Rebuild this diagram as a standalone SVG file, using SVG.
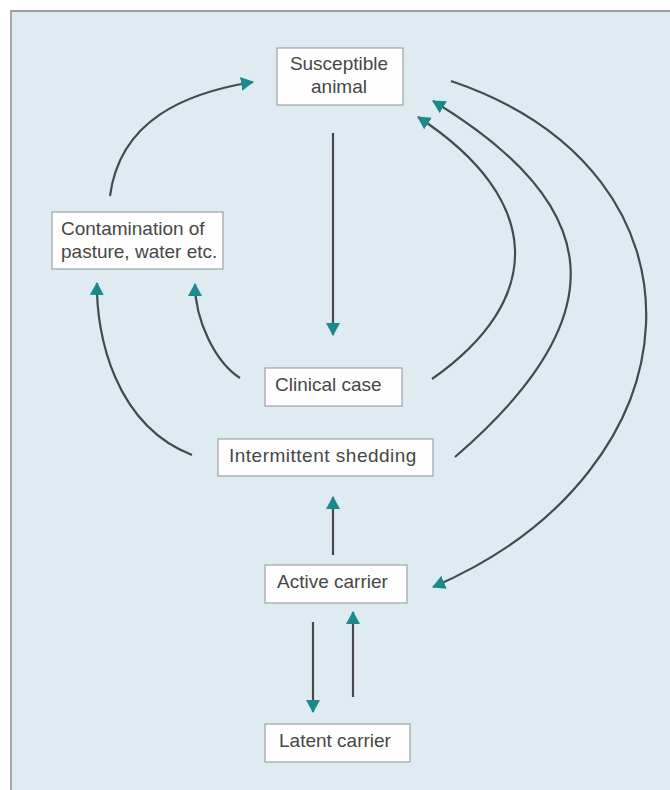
<svg xmlns="http://www.w3.org/2000/svg" width="670" height="790" viewBox="0 0 670 790">
<style>
.box{fill:#fefefe;stroke:#9aa3a6;stroke-width:1.2}
.lbl{font-family:"Liberation Sans",Arial,Helvetica,sans-serif;font-size:19px;fill:#474747}
.c{fill:none;stroke:#464a4c;stroke-width:2.2;marker-end:url(#ah)}
</style>
<defs>
<marker id="ah" viewBox="0 0 13 14" markerUnits="userSpaceOnUse" markerWidth="13" markerHeight="14" refX="12" refY="7" orient="auto">
<path d="M0,0 L13,7 L0,14 z" fill="#1c8a8d"/>
</marker>
</defs>
<rect x="0" y="0" width="670" height="790" fill="#ffffff"/>
<rect x="11" y="11" width="659" height="779" fill="#deecf2"/>
<line x1="10" y1="11" x2="670" y2="11" stroke="#9a9c9e" stroke-width="2"/>
<line x1="11" y1="10" x2="11" y2="790" stroke="#a4a6a8" stroke-width="2"/>

<g id="connectors">
<path class="c" d="M333,133 L333,335"/>
<path class="c" d="M333,555 L333,497"/>
<path class="c" d="M313,622 L313,712"/>
<path class="c" d="M353,697 L353,612"/>
<path class="c" d="M110,196 C120,120 185,93 253,82"/>
<path class="c" d="M192,455 C115,425 96,335 97,283"/>
<path class="c" d="M240,378 C215,362 195,320 195,284"/>
<path class="c" d="M432,379 C545,300 545,200 418,117"/>
<path class="c" d="M455,457 C620,315 605,205 433,101"/>
<path class="c" d="M451,81 C723,173 705,470 433,587"/>
</g>

<g id="susceptible">
<rect class="box" x="277" y="48" width="126" height="57"/>
<text class="lbl" x="339" y="70" text-anchor="middle">Susceptible</text>
<text class="lbl" x="339" y="93" text-anchor="middle">animal</text>
</g>
<g id="contamination">
<rect class="box" x="52" y="212" width="171" height="57"/>
<text class="lbl" x="61" y="235">Contamination of</text>
<text class="lbl" x="61" y="258">pasture, water etc.</text>
</g>
<g id="clinical">
<rect class="box" x="265" y="368" width="137" height="38"/>
<text class="lbl" x="275" y="391">Clinical case</text>
</g>
<g id="intermittent">
<rect class="box" x="218" y="439" width="215" height="37"/>
<text class="lbl" x="229" y="462" letter-spacing="0.5">Intermittent shedding</text>
</g>
<g id="active">
<rect class="box" x="265" y="565" width="142" height="38"/>
<text class="lbl" x="277" y="588">Active carrier</text>
</g>
<g id="latent">
<rect class="box" x="265" y="724" width="145" height="38"/>
<text class="lbl" x="279" y="747">Latent carrier</text>
</g>
</svg>
